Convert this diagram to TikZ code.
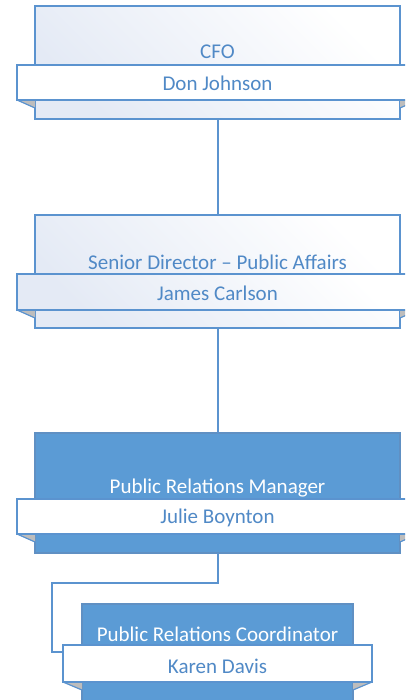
\documentclass[tikz,border=0pt]{standalone}
\usepackage{fontspec}
\setmainfont{Carlito}
\usetikzlibrary{positioning}
\definecolor{edge}{HTML}{5B93CF}
\definecolor{txtblue}{HTML}{5089C6}
\definecolor{darkfill}{HTML}{5B9BD5}
\definecolor{lightfill}{HTML}{E4EAF5}
\definecolor{foldgray}{HTML}{BDBDBD}
\tikzset{
  boxlight/.style={draw=edge, line width=1.8pt, left color=lightfill, right color=white, shading angle=135, inner sep=0pt},
  boxdark/.style={draw=edge!85!gray, line width=1.5pt, fill=darkfill, inner sep=0pt},
  ribbon/.style={draw=edge, line width=1.5pt, fill=white, inner sep=0pt},
  ribbonlight/.style={draw=edge, line width=1.5pt, left color=lightfill, right color=white, shading angle=135, inner sep=0pt},
  fold/.style={fill=foldgray, draw=none},
  foldline/.style={draw=edge, line width=1.2pt},
  conn/.style={draw=edge, line width=2pt},
  titlelight/.style={text=txtblue, font=\fontsize{21}{23}\selectfont, inner sep=0pt},
  titledark/.style={text=white, font=\fontsize{21}{23}\selectfont, inner sep=0pt},
  namet/.style={text=txtblue, font=\fontsize{21}{23}\selectfont, inner sep=0pt},
}
\begin{document}
\begin{tikzpicture}[x=1pt,y=-1pt]
\useasboundingbox (0,0) rectangle (405,700);
\begin{scope}
\clip (0,0) rectangle (405,700);
% connectors (behind)
\coordinate (c1) at (218,583);
\coordinate (c2) at (52,583);
\coordinate (c3) at (52,652);
% box 1
\path[boxlight] (35,6) rectangle (400,119);
\coordinate (b1s) at (218,119);
\path[fold] (17,100) -- (35,100) -- (35,108) -- cycle;
\path[fold] (418,100) -- (400,100) -- (400,108) -- cycle;
\draw[foldline] (17,100) -- (35,108);
\draw[foldline] (418,100) -- (400,108);
\path[ribbon] (17,65) rectangle (418,100);
\node[titlelight] (t1) at (217.5,52) {CFO};
\node[namet] (n1) at (217.5,83) {Don Johnson};
% box 2
\path[boxlight] (35,215) rectangle (400,328);
\coordinate (b2n) at (218,215);
\coordinate (b2s) at (218,328);
\path[fold] (17,310) -- (35,310) -- (35,318) -- cycle;
\path[fold] (418,310) -- (400,310) -- (400,318) -- cycle;
\draw[foldline] (17,310) -- (35,318);
\draw[foldline] (418,310) -- (400,318);
\path[ribbonlight] (17,274) rectangle (418,310);
\node[titlelight] (t2) at (217.5,262) {Senior Director – Public Affairs};
\node[namet] (n2) at (217.5,293) {James Carlson};
% box 3
\path[boxdark] (35,433) rectangle (400,553);
\coordinate (b3n) at (218,433);
\coordinate (b3s) at (218,553);
\path[fold] (17,534) -- (35,534) -- (35,542) -- cycle;
\path[fold] (418,534) -- (400,534) -- (400,542) -- cycle;
\draw[foldline] (17,534) -- (35,542);
\draw[foldline] (418,534) -- (400,542);
\path[ribbon] (17,499) rectangle (418,534);
\node[titledark] (t3) at (217.5,488) {Public Relations Manager};
\node[namet] (n3) at (217.5,518) {Julie Boynton};
% connectors
\draw[conn] (b1s) -- (b2n);
\draw[conn] (b2s) -- (b3n);
\draw[conn] (b3s) -- (c1) -- (c2) -- (c3) -- (82,652);
% box 4
\path[boxdark] (82,604) rectangle (353,720);
\path[fold] (63,682) -- (82,682) -- (82,690) -- cycle;
\path[fold] (372,682) -- (353,682) -- (353,690) -- cycle;
\draw[foldline] (63,682) -- (82,690);
\draw[foldline] (372,682) -- (353,690);
\path[ribbon] (63,645) rectangle (372,682);
\node[titledark] (t4) at (217.5,634) {Public Relations Coordinator};
\node[namet] (n4) at (217.5,666) {Karen Davis};
\end{scope}
\end{tikzpicture}
\end{document}
